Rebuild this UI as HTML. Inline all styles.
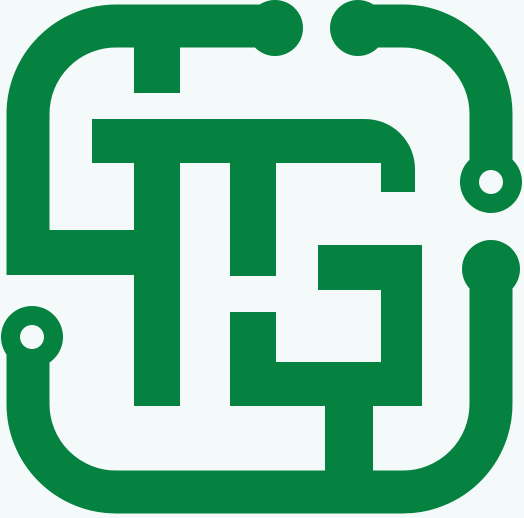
<!DOCTYPE html>
<html><head><meta charset="utf-8"><style>
html,body{margin:0;padding:0;background:#f4f9f9;}
svg{display:block;}
</style></head><body>
<svg width="524" height="518" viewBox="0 0 524 518">
<rect width="524" height="518" fill="#f4f9f9"/>
<g fill="#05823f" stroke="none">
  <path d="M275 26 H116 A88 88 0 0 0 28 114 V275" fill="none" stroke="#05823f" stroke-width="43"/>
  <rect x="6.5" y="230" width="130" height="45"/>
  <rect x="134" y="40" width="46" height="53"/>
  <circle cx="275" cy="28" r="28"/>
  <path d="M358 26 H403 A88 88 0 0 1 491 114 V165" fill="none" stroke="#05823f" stroke-width="43"/>
  <circle cx="358" cy="28" r="28"/>
  <circle cx="491" cy="182" r="31"/>
  <circle cx="491" cy="182" r="12" fill="#f4f9f9"/>
  <path d="M491 270 V404 A88 88 0 0 1 403 492 H349" fill="none" stroke="#05823f" stroke-width="43"/>
  <circle cx="491" cy="269" r="29"/>
  <path d="M28 338 V404 A88 88 0 0 0 116 492 H349" fill="none" stroke="#05823f" stroke-width="43"/>
  <circle cx="32" cy="337" r="31"/>
  <circle cx="32" cy="337" r="12" fill="#f4f9f9"/>
  <rect x="325" y="400" width="48" height="80"/>
  <path d="M92 119 H365 A50 50 0 0 1 415 169 V192 H381 V163 H92 Z"/>
  <rect x="134" y="160" width="46" height="246"/>
  <rect x="230" y="160" width="46" height="116"/>
  <path d="M318 245 H422 V406 H230 V312 H276 V362 H381 V290 H318 Z"/>
</g>
</svg>
</body></html>
